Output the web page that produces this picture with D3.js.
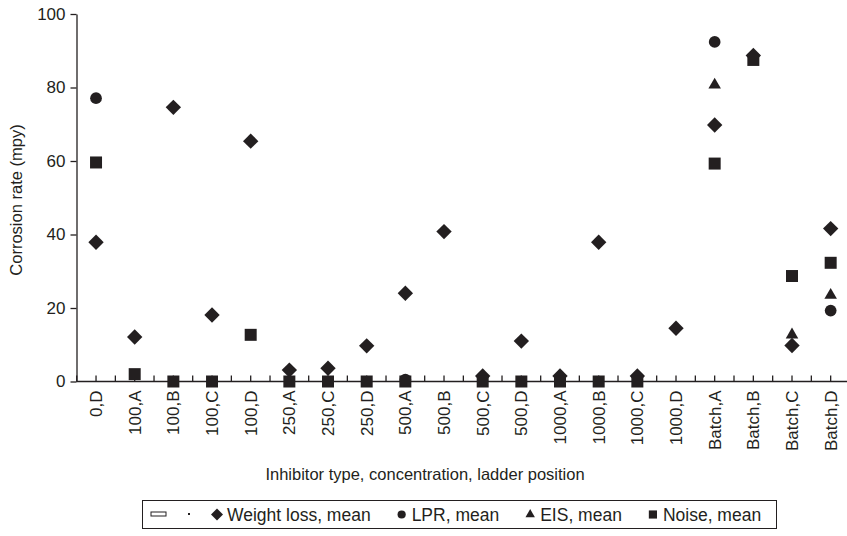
<!DOCTYPE html>
<html>
<head>
<meta charset="utf-8">
<script src="https://cdn.jsdelivr.net/npm/d3@7"></script>
<style>
  html, body { margin: 0; padding: 0; background: #fff; }
  svg { display: block; font-family: "Liberation Sans", Arial, sans-serif; }
</style>
</head>
<body>
<svg id="chart" width="847" height="536"></svg>
<script>
const categories = ["0,D","100,A","100,B","100,C","100,D","250,A","250,C","250,D","500,A","500,B",
  "500,C","500,D","1000,A","1000,B","1000,C","1000,D","Batch,A","Batch,B","Batch,C","Batch,D"];
const weightLoss = [37.9, 12.1, 74.6, 18.1, 65.4, 3.1, 3.6, 9.7, 24.0, 40.8, 1.5, 11.0, 1.5, 37.9, 1.5, 14.5, 69.8, 88.7, 9.8, 41.6];
const lpr        = [77.1, null, null, null, null, null, null, null, 0.5, null, null, null, null, null, null, null, 92.4, null, null, 19.3];
const eis        = [null, null, null, null, null, null, null, null, null, null, null, null, null, null, null, null, 80.7, null, 12.7, 23.5];
const noise      = [59.6, 2.0, 0, 0, 12.7, 0, 0, 0, 0, null, 0, 0, 0, 0, 0, null, 59.3, 87.5, 28.7, 32.3];
const yTicks = [0, 20, 40, 60, 80, 100];
const seriesNames = ["Weight loss, mean", "LPR, mean", "EIS, mean", "Noise, mean"];

const ink = "#231f20";
const svg = d3.select("#chart");

const x = d3.scaleBand().domain(categories).range([76.7, 850]).padding(0);
const y = d3.scaleLinear().domain([0, 100]).range([381.5, 14]);
const cx = c => x(c) + x.bandwidth() / 2;

// Y axis
const yAxis = d3.axisLeft(y).tickValues(yTicks).tickSizeInner(6).tickSizeOuter(0).tickPadding(5);
const gy = svg.append("g").attr("transform", "translate(76.5,0)").call(yAxis);
gy.select(".domain").attr("stroke", ink).attr("stroke-width", 1.3);
gy.selectAll(".tick line").attr("stroke", ink).attr("stroke-width", 1.3);
gy.selectAll(".tick text").attr("fill", ink).style("font-size", "17px").attr("font-family", "Liberation Sans, Arial, sans-serif");

// X axis
const xAxis = d3.axisBottom(x).tickSizeInner(-6).tickSizeOuter(0).tickPadding(0);
const gx = svg.append("g").attr("transform", "translate(0,381.5)").call(xAxis);
gx.select(".domain").remove();
gx.append("line").attr("x1", 76.5).attr("x2", 847).attr("y1", 0).attr("y2", 0)
  .attr("stroke", ink).attr("stroke-width", 1.3);
gx.selectAll(".tick line").attr("stroke", ink).attr("stroke-width", 1.3);
gx.selectAll(".tick text")
  .attr("fill", ink).style("font-size", "17px").attr("font-family", "Liberation Sans, Arial, sans-serif")
  .attr("transform", "rotate(-90)")
  .attr("text-anchor", "end")
  .attr("x", -9).attr("y", 0).attr("dy", "0.35em");
// boundary ticks between categories
gx.selectAll(".btick").data(categories).enter().append("line")
  .attr("class", "btick")
  .attr("x1", d => x(d)).attr("x2", d => x(d))
  .attr("y1", 0).attr("y2", -6)
  .attr("stroke", ink).attr("stroke-width", 1.3);

// Axis titles
svg.append("text")
  .attr("transform", "translate(16,200) rotate(-90)")
  .attr("text-anchor", "middle").attr("dy", "0.35em")
  .attr("fill", ink).style("font-size", "16.5px")
  .text("Corrosion rate (mpy)");
svg.append("text")
  .attr("x", 425).attr("y", 474)
  .attr("text-anchor", "middle").attr("dy", "0.35em")
  .attr("fill", ink).style("font-size", "16.5px")
  .text("Inhibitor type, concentration, ladder position");

// Symbols
const symDiamond = d3.symbol().type(d3.symbolSquare).size(118)();
const symCircle = d3.symbol().type(d3.symbolCircle).size(108)();
const symTriangle = d3.symbol().type(d3.symbolTriangle).size(68)();
const symSquare = d3.symbol().type(d3.symbolSquare).size(144)();

const series = [
  { name: seriesNames[0], values: weightLoss, path: symDiamond, rot: 45 },
  { name: seriesNames[1], values: lpr, path: symCircle, rot: 0 },
  { name: seriesNames[2], values: eis, path: symTriangle, rot: 0 },
  { name: seriesNames[3], values: noise, path: symSquare, rot: 0 }
];

series.forEach(s => {
  const pts = categories.map((c, i) => ({ c, v: s.values[i] })).filter(d => d.v !== null);
  svg.append("g").selectAll("path").data(pts).enter().append("path")
    .attr("d", s.path)
    .attr("fill", ink)
    .attr("transform", d => `translate(${cx(d.c)},${y(d.v)}) rotate(${s.rot})`);
});

// Legend
const lg = svg.append("g");
lg.append("rect").attr("x", 142.5).attr("y", 500.5).attr("width", 634).attr("height", 28)
  .attr("fill", "none").attr("stroke", ink).attr("stroke-width", 1);
lg.append("rect").attr("x", 151).attr("y", 512).attr("width", 15).attr("height", 4)
  .attr("fill", "none").attr("stroke", ink).attr("stroke-width", 1);
lg.append("rect").attr("x", 188).attr("y", 513).attr("width", 2).attr("height", 2).attr("fill", ink);

const legendSyms = [
  { sym: symDiamond, rot: 45, sc: 0.78 },
  { sym: symCircle, rot: 0, sc: 0.7 },
  { sym: symTriangle, rot: 0, sc: 0.75 },
  { sym: symSquare, rot: 0, sc: 0.68 }
];
let lx = 217;
legendSyms.forEach((it, i) => {
  lg.append("path").attr("d", it.sym).attr("fill", ink)
    .attr("transform", `translate(${lx},514.5) rotate(${it.rot}) scale(${it.sc})`);
  const t = lg.append("text").attr("x", lx + 10).attr("y", 514.5).attr("dy", "0.35em")
    .attr("fill", ink).style("font-size", "17.5px").text(seriesNames[i]);
  const w = t.node().getComputedTextLength();
  lx = lx + 10 + w + 31;
});
</script>
</body>
</html>
